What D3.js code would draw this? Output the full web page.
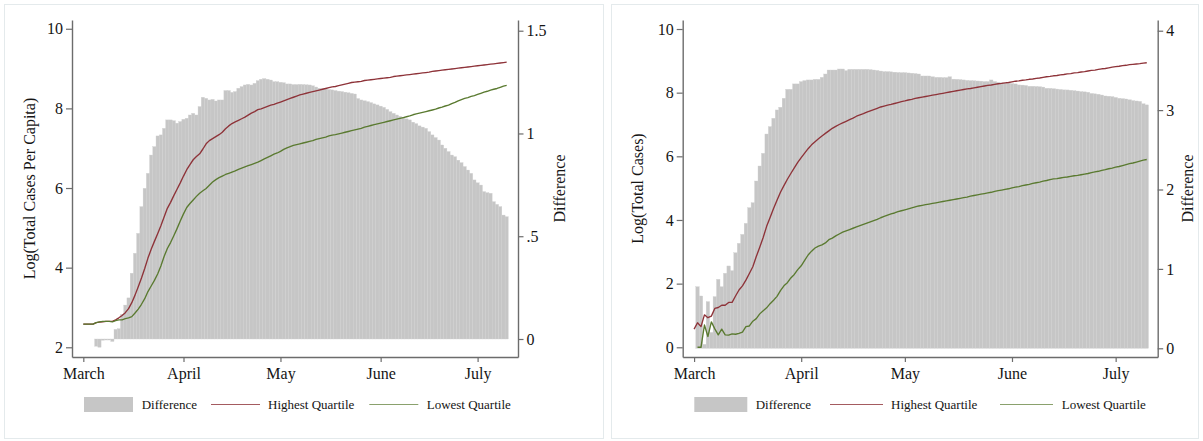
<!DOCTYPE html>
<html><head><meta charset="utf-8">
<script src="https://cdn.jsdelivr.net/npm/d3@7"></script>
<style>
body{margin:0;background:#fff}
svg{display:block}
text{font-family:"Liberation Serif","DejaVu Serif",serif;fill:#151515}
</style>
</head><body>
<svg id="chart" width="1203" height="441"></svg>
<script>
// ---------- categories ----------
const startDate = new Date(2020, 2, 1);
const dates = d3.timeDay.range(startDate, new Date(2020, 6, 11)); // Mar 1 .. Jul 10 (132 days)
const monthTicks = [new Date(2020,2,1), new Date(2020,3,1), new Date(2020,4,1), new Date(2020,5,1), new Date(2020,6,1)];
const monthLabels = ["March", "April", "May", "June", "July"];
const legendLabels = ["Difference", "Highest Quartile", "Lowest Quartile"];
const leftYTitle = "Log(Total Cases Per Capita)";
const rightYTitle = "Log(Total Cases)";
const diffTitle = "Difference";
const leftYTicks = [2, 4, 6, 8, 10];
const leftDiffTicks = [0, 0.5, 1, 1.5];
const leftDiffLabels = ["0", ".5", "1", "1.5"];
const rightYTicks = [0, 2, 4, 6, 8, 10];
const rightDiffTicks = [0, 1, 2, 3, 4];
const rightDiffLabels = ["0", "1", "2", "3", "4"];

// ---------- left panel series (per capita) ----------
const leftHigh = [
2.58,2.58,2.58,2.58,2.62,2.63,2.64,2.65,2.65,2.65,
2.69,2.74,2.80,2.87,2.97,3.12,3.31,3.52,3.74,3.98,
4.24,4.46,4.66,4.85,5.05,5.27,5.49,5.64,5.81,5.97,
6.13,6.30,6.46,6.59,6.71,6.79,6.86,6.98,7.11,7.19,
7.24,7.29,7.34,7.40,7.49,7.56,7.62,7.66,7.70,7.74,
7.78,7.83,7.88,7.92,7.97,7.99,8.02,8.05,8.08,8.10,
8.13,8.16,8.19,8.22,8.25,8.28,8.31,8.34,8.36,8.38,
8.40,8.42,8.44,8.46,8.48,8.50,8.52,8.54,8.55,8.57,
8.59,8.61,8.63,8.65,8.66,8.67,8.68,8.70,8.71,8.72,
8.73,8.74,8.75,8.76,8.77,8.78,8.80,8.81,8.82,8.83,
8.84,8.85,8.86,8.87,8.88,8.89,8.90,8.91,8.93,8.94,
8.95,8.96,8.97,8.98,8.99,9.00,9.01,9.02,9.03,9.04,
9.05,9.06,9.07,9.08,9.09,9.10,9.11,9.12,9.13,9.14,
9.15,9.16];
const leftLow = [
2.58,2.58,2.58,2.58,2.62,2.64,2.65,2.65,2.65,2.64,
2.67,2.69,2.69,2.72,2.74,2.77,2.86,2.96,3.08,3.22,
3.40,3.54,3.68,3.84,4.04,4.28,4.48,4.63,4.80,4.98,
5.17,5.35,5.51,5.61,5.70,5.79,5.87,5.93,5.99,6.07,
6.15,6.21,6.26,6.30,6.34,6.37,6.40,6.43,6.47,6.50,
6.53,6.56,6.59,6.62,6.65,6.69,6.73,6.77,6.81,6.85,
6.88,6.92,6.97,7.01,7.04,7.07,7.09,7.11,7.13,7.15,
7.17,7.19,7.22,7.24,7.26,7.28,7.31,7.33,7.34,7.36,
7.38,7.40,7.42,7.44,7.46,7.48,7.50,7.53,7.55,7.57,
7.59,7.61,7.63,7.65,7.67,7.69,7.71,7.73,7.75,7.77,
7.79,7.81,7.84,7.86,7.88,7.90,7.92,7.94,7.96,7.98,
8.01,8.03,8.06,8.08,8.12,8.15,8.19,8.22,8.25,8.27,
8.30,8.32,8.35,8.38,8.41,8.43,8.46,8.48,8.50,8.53,
8.56,8.58];
const leftDiff = [
null,null,null,null,-0.035,-0.040,-0.006,-0.005,-0.005,-0.012,
0.047,0.050,0.120,0.165,0.200,0.320,0.417,0.514,0.644,0.733,
0.806,0.895,0.936,0.988,0.993,1.025,1.066,1.066,1.062,1.050,
1.058,1.069,1.074,1.090,1.098,1.090,1.131,1.176,1.171,1.163,
1.166,1.158,1.163,1.163,1.209,1.209,1.200,1.204,1.220,1.228,
1.236,1.239,1.236,1.244,1.257,1.264,1.267,1.264,1.260,1.252,
1.252,1.249,1.247,1.241,1.241,1.238,1.238,1.239,1.238,1.237,
1.236,1.232,1.226,1.220,1.218,1.216,1.214,1.212,1.209,1.206,
1.204,1.201,1.198,1.195,1.192,1.170,1.163,1.159,1.155,1.150,
1.144,1.139,1.133,1.127,1.117,1.106,1.098,1.090,1.083,1.077,
1.071,1.066,1.055,1.048,1.037,1.031,1.025,1.009,0.993,0.980,
0.968,0.944,0.928,0.912,0.895,0.887,0.870,0.858,0.839,0.822,
0.806,0.774,0.760,0.749,0.717,0.712,0.709,0.668,0.655,0.644,
0.603,0.595];

// ---------- right panel series (total cases) ----------
const rightHigh = [
0.57,0.77,0.65,1.02,0.93,0.98,1.22,1.25,1.32,1.32,
1.41,1.41,1.61,1.80,1.93,2.11,2.32,2.53,2.85,3.14,
3.45,3.80,4.08,4.36,4.62,4.87,5.08,5.28,5.46,5.64,
5.81,5.96,6.10,6.24,6.36,6.46,6.55,6.64,6.72,6.80,
6.88,6.94,7.00,7.05,7.10,7.15,7.20,7.26,7.30,7.34,
7.39,7.43,7.47,7.51,7.55,7.58,7.61,7.63,7.66,7.69,
7.72,7.74,7.77,7.79,7.82,7.84,7.86,7.88,7.90,7.92,
7.94,7.96,7.98,8.00,8.02,8.04,8.06,8.08,8.10,8.12,
8.13,8.15,8.17,8.19,8.21,8.23,8.24,8.26,8.28,8.29,
8.31,8.32,8.34,8.36,8.37,8.39,8.40,8.42,8.43,8.45,
8.46,8.48,8.50,8.51,8.53,8.54,8.56,8.57,8.59,8.60,
8.62,8.63,8.65,8.66,8.68,8.70,8.71,8.73,8.75,8.76,
8.78,8.80,8.82,8.83,8.85,8.86,8.88,8.89,8.90,8.91,
8.93,8.94];
const rightLow = [
null,0.00,0.00,0.70,0.34,0.80,0.58,0.39,0.57,0.39,
0.38,0.42,0.41,0.44,0.48,0.65,0.67,0.82,0.90,1.05,
1.15,1.24,1.37,1.48,1.60,1.78,1.93,2.03,2.18,2.29,
2.44,2.56,2.73,2.90,3.02,3.12,3.18,3.22,3.28,3.38,
3.43,3.50,3.56,3.62,3.66,3.70,3.74,3.78,3.82,3.86,
3.90,3.94,3.98,4.02,4.07,4.11,4.15,4.19,4.22,4.26,
4.29,4.32,4.35,4.38,4.41,4.44,4.46,4.48,4.50,4.52,
4.54,4.56,4.58,4.60,4.62,4.64,4.66,4.68,4.70,4.72,
4.75,4.77,4.79,4.81,4.83,4.85,4.87,4.90,4.92,4.94,
4.96,4.98,5.01,5.03,5.05,5.08,5.10,5.12,5.15,5.17,
5.19,5.22,5.24,5.27,5.29,5.30,5.32,5.34,5.35,5.37,
5.39,5.40,5.42,5.44,5.46,5.49,5.51,5.53,5.56,5.58,
5.61,5.63,5.66,5.68,5.71,5.74,5.77,5.79,5.82,5.85,
5.88,5.90];
const rightDiff = [
null,0.776,0.659,0.050,0.588,0.200,0.651,0.869,0.776,0.945,
1.037,0.978,1.204,1.322,1.435,1.574,1.771,1.834,2.107,2.296,
2.456,2.699,2.792,2.897,3.002,3.036,3.149,3.262,3.262,3.330,
3.330,3.359,3.372,3.380,3.380,3.388,3.388,3.413,3.455,3.505,
3.505,3.505,3.518,3.518,3.497,3.514,3.514,3.514,3.514,3.514,
3.514,3.510,3.505,3.500,3.492,3.485,3.485,3.482,3.478,3.474,
3.472,3.472,3.468,3.465,3.460,3.455,3.430,3.430,3.430,3.420,
3.413,3.413,3.410,3.410,3.420,3.390,3.388,3.385,3.380,3.375,
3.372,3.370,3.367,3.365,3.360,3.360,3.380,3.360,3.350,3.345,
3.340,3.340,3.335,3.330,3.317,3.315,3.310,3.300,3.300,3.298,
3.295,3.290,3.275,3.274,3.270,3.265,3.260,3.255,3.254,3.250,
3.245,3.240,3.233,3.230,3.225,3.210,3.205,3.200,3.190,3.178,
3.175,3.170,3.160,3.149,3.145,3.140,3.130,3.120,3.115,3.110,
3.080,3.066];

// ---------- drawing ----------
const svg = d3.select("#chart");
const colHigh = "#8e3339", colLow = "#5a7a30", colBar = "#c6c6c6", colAxis = "#6c6c6c";

function drawPanel(cfg) {
  const g = svg.append("g");
  g.append("rect").attr("x", cfg.frame[0]).attr("y", cfg.frame[1])
    .attr("width", cfg.frame[2]).attr("height", cfg.frame[3])
    .attr("fill", "#fff").attr("stroke", "#e4eaec").attr("stroke-width", 1);

  const x = d3.scaleTime()
    .domain([d3.timeHour.offset(startDate, -cfg.padL * 24), d3.timeHour.offset(monthTicks[4], cfg.padR * 24)])
    .range([cfg.x0, cfg.x1]);
  const yL = d3.scaleLinear().domain(cfg.yLDom).range([cfg.yB, cfg.yT]);
  const yR = d3.scaleLinear().domain(cfg.yRDom).range([cfg.yB, cfg.yT]);

  // bars (difference, right axis)
  const step = x(dates[1]) - x(dates[0]);
  const bars = cfg.diff.map((v, i) => ({d: dates[i], v})).filter(o => o.v != null);
  g.append("g").selectAll("rect").data(bars).join("rect")
    .attr("x", o => x(o.d) - step / 2)
    .attr("width", step)
    .attr("y", o => Math.min(yR(0), yR(o.v)))
    .attr("height", o => Math.abs(yR(o.v) - yR(0)))
    .attr("fill", colBar)
    .attr("stroke", "#d0d0d0").attr("stroke-width", 0.35);

  // lines
  const line = d3.line().defined(o => o.v != null).x(o => x(o.d)).y(o => yL(o.v));
  [[cfg.high, colHigh], [cfg.low, colLow]].forEach(([arr, col]) => {
    g.append("path").datum(arr.map((v, i) => ({d: dates[i], v})))
      .attr("d", line).attr("fill", "none").attr("stroke", col)
      .attr("stroke-width", 1.35).attr("stroke-linejoin", "round");
  });

  const styleAxis = sel => {
    sel.select(".domain").attr("stroke", colAxis).attr("stroke-width", 1.4);
    sel.selectAll(".tick line").attr("stroke", colAxis).attr("stroke-width", 1.2);
    sel.selectAll("text").attr("font-size", 16).attr("fill", "#151515")
      .attr("font-family", '"Liberation Serif","DejaVu Serif",serif');
  };

  g.append("g").attr("transform", `translate(${cfg.x0},0)`)
    .call(d3.axisLeft(yL).tickValues(cfg.yLTicks).tickSize(6).tickSizeOuter(0).tickPadding(3).tickFormat(d3.format("d")))
    .call(styleAxis);
  g.append("g").attr("transform", `translate(${cfg.x1},0)`)
    .call(d3.axisRight(yR).tickValues(cfg.yRTicks).tickSize(5.5).tickSizeOuter(0).tickPadding(3)
      .tickFormat((d, i) => cfg.yRLabels[i]))
    .call(styleAxis);
  g.append("g").attr("transform", `translate(0,${cfg.yB})`)
    .call(d3.axisBottom(x).tickValues(monthTicks).tickSize(5).tickSizeOuter(0).tickPadding(6)
      .tickFormat((d, i) => monthLabels[i]))
    .call(styleAxis);

  // axis titles
  const midY = (cfg.yT + cfg.yB) / 2;
  g.append("text").attr("transform", `translate(${cfg.titleLX},${midY}) rotate(-90)`)
    .attr("text-anchor", "middle").attr("dy", "0.35em").attr("font-size", 16).text(cfg.titleL);
  g.append("text").attr("transform", `translate(${cfg.titleRX},${midY}) rotate(-90)`)
    .attr("text-anchor", "middle").attr("dy", "0.35em").attr("font-size", 16).text(diffTitle);

  // legend
  const ly = 404.5;
  const lg = g.append("g");
  lg.append("rect").attr("x", cfg.leg[0]).attr("y", ly - 7.5).attr("width", cfg.legW).attr("height", 15).attr("fill", colBar);
  lg.append("line").attr("x1", cfg.leg[2]).attr("x2", cfg.leg[2] + cfg.legW).attr("y1", ly).attr("y2", ly)
    .attr("stroke", colHigh).attr("stroke-width", 1.2).attr("opacity", 0.8);
  lg.append("line").attr("x1", cfg.leg[4]).attr("x2", cfg.leg[4] + cfg.legW).attr("y1", ly).attr("y2", ly)
    .attr("stroke", colLow).attr("stroke-width", 1.2).attr("opacity", 0.7);
  [cfg.leg[1], cfg.leg[3], cfg.leg[5]].forEach((tx, i) => {
    lg.append("text").attr("x", tx).attr("y", ly).attr("dy", "0.35em").attr("font-size", 13).text(legendLabels[i]);
  });
}

drawPanel({
  frame: [4.5, 4.5, 599, 434],
  x0: 72, x1: 518, yT: 20, yB: 357, padL: 3.5, padR: 12.5,
  yLDom: [1.756, 10.22], yRDom: [-0.0876, 1.5521],
  yLTicks: leftYTicks, yRTicks: leftDiffTicks, yRLabels: leftDiffLabels,
  high: leftHigh, low: leftLow, diff: leftDiff,
  titleL: leftYTitle, titleLX: 29, titleRX: 559,
  leg: [84, 141.7, 211, 268, 369.3, 426.7], legW: 49
});

drawPanel({
  frame: [611.5, 4.5, 587, 434],
  x0: 682.7, x1: 1157.7, yT: 20, yB: 357, padL: 3.27, padR: 12.2,
  yLDom: [-0.305, 10.283], yRDom: [-0.1096, 4.135],
  yLTicks: rightYTicks, yRTicks: rightDiffTicks, yRLabels: rightDiffLabels,
  high: rightHigh, low: rightLow, diff: rightDiff,
  titleL: rightYTitle, titleLX: 637.5, titleRX: 1187,
  leg: [694.3, 755.7, 830, 891, 1000, 1061.7], legW: 53
});
</script>
</body></html>
